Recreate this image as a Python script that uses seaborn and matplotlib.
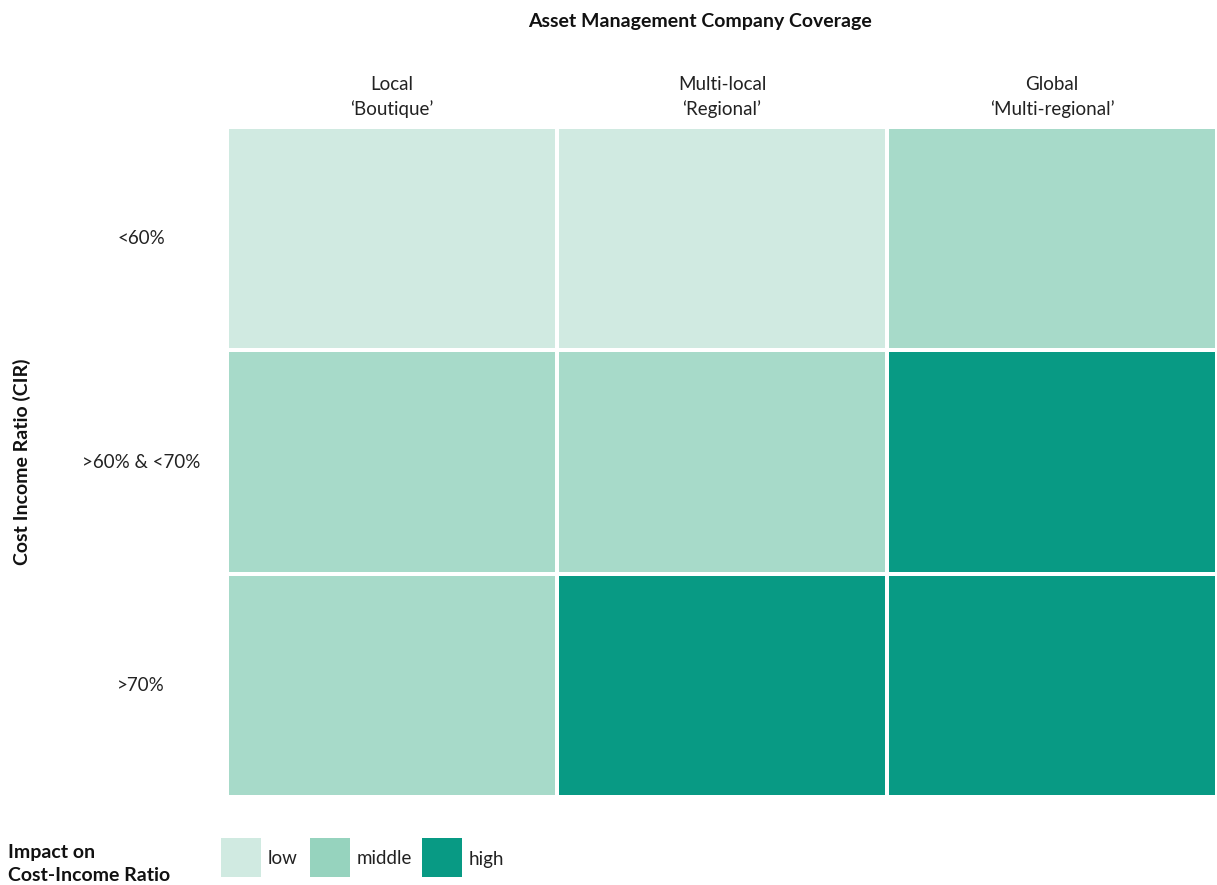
import matplotlib
matplotlib.use("Agg")
import matplotlib.pyplot as plt
from matplotlib.colors import ListedColormap
from matplotlib.patches import Rectangle
import seaborn as sns
import pandas as pd

columns = ["Local\n\u2018Boutique\u2019", "Multi-local\n\u2018Regional\u2019", "Global\n\u2018Multi-regional\u2019"]
rows = ["<60%", ">60% & <70%", ">70%"]
impact_levels = ["low", "middle", "high"]
impact = [
    [0, 0, 1],
    [1, 1, 2],
    [1, 2, 2],
]
cell_colors = ["#d0eae1", "#a7dac9", "#089a84"]
legend_colors = ["#d0eae1", "#96d3be", "#089a84"]

sns.set_style("white")
plt.rcParams["font.family"] = ["Lato", "DejaVu Sans"]

df = pd.DataFrame(impact, index=rows, columns=columns)

fig = plt.figure(figsize=(12.17, 8.85), dpi=100)
ax = fig.add_axes([227 / 1217, 1 - 797 / 885, 1 - 227 / 1217, (797 - 127) / 885])
sns.heatmap(df, ax=ax, cmap=ListedColormap(cell_colors), vmin=-0.5, vmax=2.5,
            cbar=False, linewidths=1.6, linecolor="white", square=False)

ax.xaxis.tick_top()
ax.tick_params(axis="both", length=0)
ax.set_xticklabels(columns, fontsize=13.5, color="#222222", linespacing=1.5)
ax.tick_params(axis="x", pad=6.5)
ax.set_yticklabels(rows, fontsize=13.5, color="#222222", rotation=0, ha="center")
ax.tick_params(axis="y", pad=62)
ax.set_xlabel("")
ax.set_ylabel("")

fig.text(700 / 1217, 1 - 21 / 885, "Asset Management Company Coverage", ha="center", va="center",
         fontsize=14, fontweight="bold", color="#111111")
fig.text(22 / 1217, 1 - 462 / 885, "Cost Income Ratio (CIR)", ha="center", va="center",
         rotation=90, fontsize=14, fontweight="bold", color="#111111")

fig.text(8 / 1217, 1 - 864 / 885, "Impact on\nCost-Income Ratio", ha="left", va="center",
         fontsize=14, fontweight="bold", color="#111111", linespacing=1.45)

patch_x = [221, 310, 422]
label_x = [268, 357, 469]
for px, lx, lab, col in zip(patch_x, label_x, impact_levels, legend_colors):
    fig.patches.append(Rectangle((px / 1217, 1 - 877 / 885), 40 / 1217, 39 / 885,
                                 transform=fig.transFigure, facecolor=col, edgecolor="none"))
    fig.text(lx / 1217, 1 - 859 / 885, lab, ha="left", va="center", fontsize=13.5, color="#222222")

fig.savefig("out.png", dpi=100, facecolor="white")
